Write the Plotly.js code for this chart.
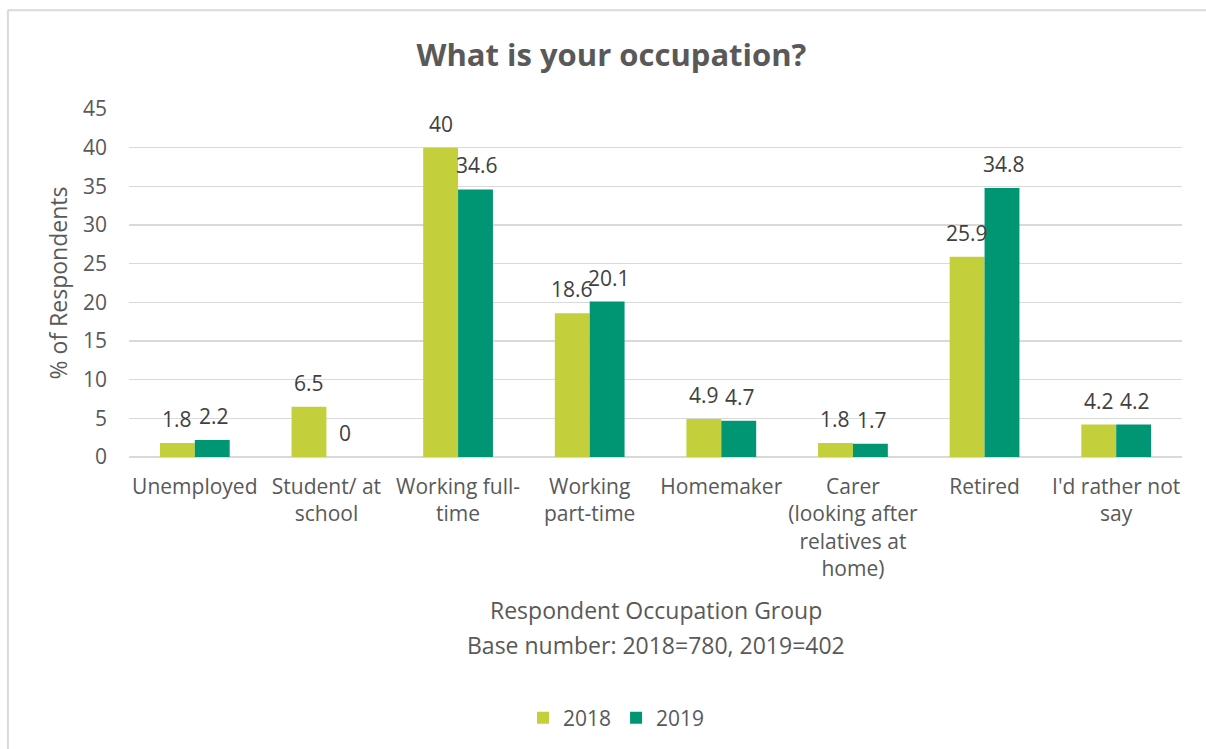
<!DOCTYPE html>
<html><head><meta charset="utf-8">
<script src="https://cdn.plot.ly/plotly-3.0.1.min.js"></script>
<style>html,body{margin:0;padding:0;background:#fff}#chart{width:1206px;height:749px}</style>
</head><body><div id="chart"></div>
<script>
const categories = ["Unemployed","Student/ at<br>school","Working full-<br>time","Working<br>part-time","Homemaker","Carer<br>(looking after<br>relatives at<br>home)","Retired","I'd rather not<br>say"];
const values2018 = [1.8, 6.5, 40, 18.6, 4.9, 1.8, 25.9, 4.2];
const values2019 = [2.2, 0, 34.6, 20.1, 4.7, 1.7, 34.8, 4.2];
const seriesNames = ["2018","2019"];
const xTitleLines = ["Respondent Occupation Group","Base number: 2018=780, 2019=402"];
const colors = ["#c3d03b","#009673"];
const font = "Open Sans, Segoe UI, sans-serif";
const textColor = "#595959";
const labelColor = "#404040";
const fs = 21;
const titleFs = 23;

const series = [values2018, values2019];
const traces = series.map((v,i)=>({
  type:"bar", name:seriesNames[i], x:categories, y:v,
  marker:{color:colors[i]}, hoverinfo:"none"
}));

// data labels built from the data arrays, offset to sit over each bar of the group
const labelAnnotations = [];
series.forEach((v,i)=>{
  v.forEach((val,j)=>{
    labelAnnotations.push({x:categories[j], y:val, xref:"x", yref:"y", text:String(val),
      showarrow:false, yanchor:"bottom", xanchor:"center", xshift:(i===0?-17.5:19), yshift:8,
      font:{family:font,size:fs,color:labelColor}});
  });
});

const titleAnnotations = [
  {xref:"paper",yref:"paper",x:0.5,y:-0.441,yanchor:"middle",xanchor:"center",showarrow:false,text:xTitleLines[0],font:{family:font,size:titleFs,color:textColor}},
  {xref:"paper",yref:"paper",x:0.5,y:-0.5415,yanchor:"middle",xanchor:"center",showarrow:false,text:xTitleLines[1],font:{family:font,size:titleFs,color:textColor}}
];

const layout = {
  width:1206, height:749,
  margin:{l:129,r:24,t:109,b:291},
  paper_bgcolor:"#fff", plot_bgcolor:"#fff",
  font:{family:font,color:textColor,size:fs},
  title:{text:"<b>What is your occupation?</b>",font:{family:font,size:31,color:textColor},x:0.507,xanchor:"center",y:0.927,yanchor:"middle"},
  barmode:"group", bargap:0.47, bargroupgap:0,
  xaxis:{tickfont:{size:fs,color:textColor},showgrid:false,zeroline:false,showline:false,ticks:"",ticklabelstandoff:15},
  yaxis:{range:[0,45],dtick:5,tickfont:{size:fs,color:textColor},gridcolor:"#d9d9d9",gridwidth:1.5,zeroline:true,zerolinecolor:"#d9d9d9",zerolinewidth:1.5,ticks:"",ticklabelstandoff:21,
    title:{text:"% of Respondents",font:{size:titleFs,color:textColor},standoff:8}},
  legend:{orientation:"h",x:0.463,xanchor:"center",y:-0.745,yanchor:"middle",font:{size:fs,color:textColor},traceorder:"normal"},
  showlegend:true,
  annotations:labelAnnotations.concat(titleAnnotations),
  shapes:[
    {type:"line",xref:"paper",yref:"paper",x0:-0.115,x1:1.1,y0:1.284,y1:1.284,line:{color:"#d9d9d9",width:2}},
    {type:"line",xref:"paper",yref:"paper",x0:-0.115,x1:-0.115,y0:1.284,y1:-0.9,line:{color:"#d9d9d9",width:2}}
  ]
};
Plotly.newPlot("chart",traces,layout,{displayModeBar:false,staticPlot:true});
</script></body></html>
